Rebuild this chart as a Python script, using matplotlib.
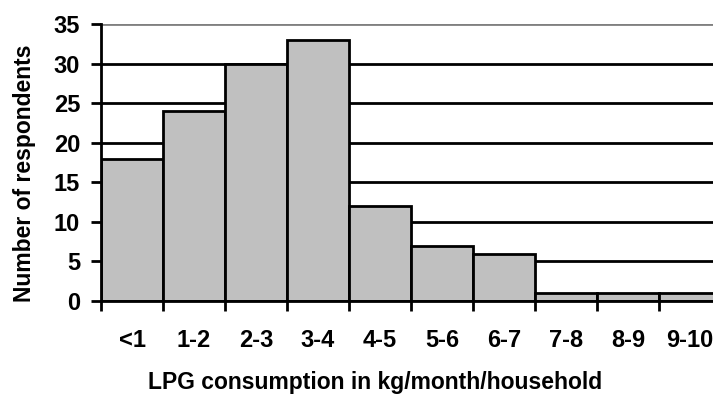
import matplotlib
matplotlib.use('Agg')
import matplotlib.pyplot as plt

# Datos
categorias = ['<1', '1-2', '2-3', '3-4', '4-5', '5-6', '6-7', '7-8', '8-9', '9-10']
respondentes = [18, 24, 30, 33, 12, 7, 6, 1, 1, 1]
y_ticks = [0, 5, 10, 15, 20, 25, 30, 35]

plt.rcParams['font.family'] = ['Liberation Sans', 'DejaVu Sans']
plt.rcParams['font.weight'] = 'bold'

fig = plt.figure(figsize=(7.13, 4.0), dpi=100)
W, H = 713, 400
# el área de trazado se sale por la derecha, como en la referencia
ax = fig.add_axes([101 / W, (H - 301) / H, 620 / W, 277 / H])

# líneas de cuadrícula (negras, la de arriba gris)
for y in y_ticks[1:]:
    color = '#808080' if y == 35 else 'black'
    ax.axhline(y, color=color, linewidth=2, zorder=1)

x = range(len(categorias))
ax.bar(x, respondentes, width=1.0, align='edge', color='#c0c0c0',
       edgecolor='black', linewidth=2, zorder=2)

ax.set_xlim(0, len(categorias))
ax.set_ylim(0, 35)
ax.set_yticks(y_ticks)
ax.set_yticklabels([str(v) for v in y_ticks], fontsize=17, fontweight='bold')
ax.set_xticks(range(len(categorias) + 1))
ax.set_xticklabels([])
ax.set_xticks([i + 0.5 for i in x], minor=True)
ax.set_xticklabels(categorias, minor=True, fontsize=17, fontweight='bold')
ax.tick_params(axis='x', which='minor', length=0, pad=20)
ax.tick_params(axis='x', which='major', length=7, width=2, direction='out')
ax.tick_params(axis='y', length=7, width=2, direction='out', pad=8)

for s in ['top', 'right']:
    ax.spines[s].set_visible(False)
ax.spines['left'].set_linewidth(2)
ax.spines['bottom'].set_linewidth(2)
ax.spines['left'].set_zorder(3)
ax.spines['bottom'].set_zorder(3)

fig.text(25 / W, 1 - 173 / H, 'Number of respondents', rotation=90,
         fontsize=16.5, fontweight='bold', ha='center', va='center')
fig.text(375 / W, 1 - 383 / H, 'LPG consumption in kg/month/household',
         fontsize=16.5, fontweight='bold', ha='center', va='center')

fig.savefig('out.png', dpi=100)
